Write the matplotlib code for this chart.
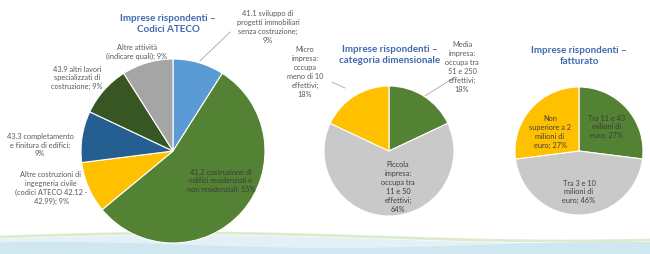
import numpy as np
import matplotlib.pyplot as plt

plt.rcParams['font.family'] = ['Lato', 'DejaVu Sans']

# --- data ---
ateco_labels = ["41.1 sviluppo di\nprogetti immobiliari\nsenza costruzione;\n9%",
                "41.2 costruzione di\nedifici residenziali e\nnon residenziali; 55%",
                "Altre costruzioni di\ningegneria civile\n(codici ATECO 42.12 -\n42.99); 9%",
                "43.3 completamento\ne finitura di edifici;\n9%",
                "43.9 altri lavori\nspecializzati di\ncostruzione; 9%",
                "Altre attività\n(indicare quali); 9%"]
ateco_values = [9, 55, 9, 9, 9, 9]
ateco_colors = ["#5B9BD5", "#548235", "#FFC000", "#255E91", "#375623", "#A5A5A5"]

dim_labels = ["Media\nimpresa:\noccupa tra\n51 e 250\neffettivi;\n18%",
              "Piccola\nimpresa:\noccupa tra\n11 e 50\neffettivi;\n64%",
              "Micro\nimpresa:\noccupa\nmeno di 10\neffettivi;\n18%"]
dim_values = [18, 64, 18]
dim_colors = ["#548235", "#C9C9C9", "#FFC000"]

fat_labels = ["Tra 11 e 43\nmilioni di\neuro; 27%",
              "Tra 3 e 10\nmilioni di\neuro; 46%",
              "Non\nsuperiore a 2\nmilioni di\neuro; 27%"]
fat_values = [27, 46, 27]
fat_colors = ["#548235", "#C9C9C9", "#FFC000"]

W, H = 650, 255
fig = plt.figure(figsize=(6.5, 2.55), dpi=100)
fig.patch.set_facecolor("white")

# soft wave at the bottom
bg = fig.add_axes([0, 0, 1, 1], zorder=-5)
bg.set_xlim(0, W)
bg.set_ylim(H, 0)
bg.axis("off")
xs = np.linspace(0, W, 200)
bg.fill_between(xs, 240 - 4 * np.sin(xs / 120), H, color="#E3F1F6", lw=0)
bg.fill_between(xs, 246 - 3 * np.sin(xs / 90 + 1), H, color="#CFE7F0", lw=0)
bg.plot(xs, 238 - 4 * np.sin(xs / 120), color="#DCEBCD", lw=2)


def pie_ax(cx, cy, r, values, colors):
    ax = fig.add_axes([(cx - r) / W, (H - cy - r) / H, 2 * r / W, 2 * r / H])
    ax.pie(values, colors=colors, startangle=90, counterclock=False, radius=1,
           wedgeprops=dict(edgecolor="white", linewidth=0.8))
    ax.set_xlim(-1, 1)
    ax.set_ylim(-1, 1)
    ax.set_aspect("equal")
    ax.axis("off")
    return ax


def txt(x, y, s, color="#595959"):
    fig.text(x / W, 1 - y / H, s, ha="center", va="center", fontsize=5.3,
             color=color, linespacing=1.3)


def leader(pts):
    pts = np.array(pts, dtype=float)
    bg.plot(pts[:, 0], pts[:, 1], color="#A6A6A6", lw=0.6)


title_kw = dict(ha="center", va="center", fontsize=7.1, fontweight="bold",
                color="#4169B0", linespacing=1.35)

# pie 1
pie_ax(173, 152, 92, ateco_values, ateco_colors)
fig.text(168 / W, 1 - 24 / H, "Imprese rispondenti –\nCodici ATECO", **title_kw)
txt(268, 27, ateco_labels[0])
leader([(230, 33), (200, 62)])
txt(221, 181, ateco_labels[1], color="#3A3A3A")
txt(51, 188, ateco_labels[2])
txt(40, 145, ateco_labels[3])
txt(77, 78, ateco_labels[4])
txt(137, 52, ateco_labels[5])

# pie 2
pie_ax(389, 152, 65, dim_values, dim_colors)
fig.text(390 / W, 1 - 55 / H, "Imprese rispondenti –\ncategoria dimensionale", **title_kw)
txt(462, 67, dim_labels[0])
leader([(455, 78), (425, 97)])
txt(398, 187, dim_labels[1], color="#404040")
txt(305, 72, dim_labels[2])
leader([(332, 83), (345, 89)])

# pie 3
pie_ax(579, 152, 64, fat_values, fat_colors)
fig.text(579 / W, 1 - 56 / H, "Imprese rispondenti –\nfatturato", **title_kw)
txt(607, 127, fat_labels[0], color="#3A3A3A")
txt(579, 192, fat_labels[1], color="#404040")
txt(550, 132, fat_labels[2], color="#404040")

fig.savefig("out.png", dpi=100, facecolor="white")
